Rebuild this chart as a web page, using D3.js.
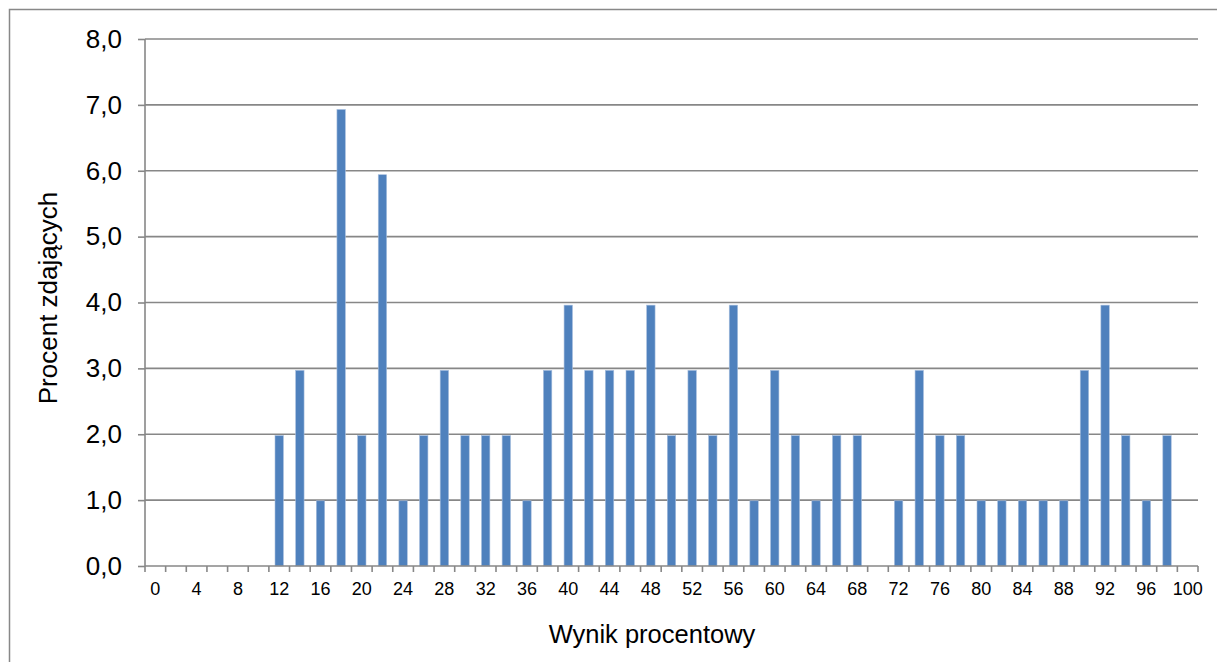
<!DOCTYPE html>
<html><head><meta charset="utf-8">
<script src="https://cdn.jsdelivr.net/npm/d3@7"></script>
<style>body{margin:0;background:#fff}svg{display:block;font-family:"Liberation Sans",Arial,sans-serif}</style>
</head><body>
<svg id="c" width="1217" height="662"></svg>
<script>
const categories = d3.range(0, 101, 2);
const values = [0,0,0,0,0,0,1.98,2.97,0.99,6.93,1.98,5.94,0.99,1.98,2.97,1.98,1.98,1.98,0.99,2.97,3.96,2.97,2.97,2.97,3.96,1.98,2.97,1.98,3.96,0.99,2.97,1.98,0.99,1.98,1.98,0,0.99,2.97,1.98,1.98,0.99,0.99,0.99,0.99,0.99,2.97,3.96,1.98,0.99,1.98,0];
const yTicks = [0,1,2,3,4,5,6,7,8];
const xLabel = "Wynik procentowy";
const yLabel = "Procent zdających";

const svg = d3.select("#c");
const L = 145, R = 1198, T = 39, B = 566;
const xb = d3.scaleBand().domain(categories).range([L, R]);
const y = d3.scaleLinear().domain([0, 8]).range([B, T]);

svg.append("rect").attr("x",9.5).attr("y",9.5).attr("width",1220).attr("height",700)
  .attr("fill","none").attr("stroke","#888").attr("stroke-width",1.5);

// gridlines
svg.append("g").selectAll("line").data(yTicks.filter(d=>d>0)).join("line")
  .attr("x1", L).attr("x2", R).attr("y1", d=>y(d)).attr("y2", d=>y(d))
  .attr("stroke","#878787").attr("stroke-width",1.6);

// bars
svg.append("g").selectAll("rect").data(categories).join("rect")
  .attr("x", (d)=>xb(d) + xb.bandwidth()/2 - 4.2)
  .attr("width", 8.4)
  .attr("y", (d,i)=>y(values[i]))
  .attr("height", (d,i)=>B - y(values[i]))
  .attr("fill","#4F81BD").attr("stroke","#A7BEDE").attr("stroke-width",0.6);

// y axis
const ya = svg.append("g").attr("transform",`translate(${L},0)`)
  .call(d3.axisLeft(y).tickValues(yTicks).tickSize(7).tickPadding(16)
    .tickFormat(d=>d3.format(".1f")(d).replace(".",",")));
ya.select(".domain").attr("stroke","#878787").attr("stroke-width",1.6).attr("d",`M0,${T}V${B}`);
ya.selectAll(".tick line").attr("stroke","#878787").attr("stroke-width",1.6);
ya.selectAll("text").attr("font-size",26).attr("fill","#000").attr("font-family","Liberation Sans, Arial, sans-serif");

// x axis: ticks at band boundaries
const xa = svg.append("g").attr("transform",`translate(0,${B})`);
xa.append("line").attr("x1",L).attr("x2",R).attr("stroke","#878787").attr("stroke-width",1.6);
const bounds = categories.map(c=>xb(c)).concat([R]);
xa.selectAll("line.t").data(bounds).join("line").attr("class","t")
  .attr("x1",d=>d).attr("x2",d=>d).attr("y1",0).attr("y2",6)
  .attr("stroke","#878787").attr("stroke-width",1.6);
xa.selectAll("text").data(categories.filter(c=>c%4===0)).join("text")
  .attr("x", d=>xb(d)+xb.bandwidth()/2).attr("y", 29)
  .attr("text-anchor","middle").attr("font-size",18).attr("fill","#000")
  .text(d=>d);

svg.append("text").attr("x",652).attr("y",643).attr("text-anchor","middle")
  .attr("font-size",25.5).attr("fill","#000").text(xLabel);
svg.append("text").attr("transform","translate(57,298) rotate(-90)").attr("text-anchor","middle")
  .attr("font-size",26).attr("fill","#000").text(yLabel);
</script>
</body></html>
